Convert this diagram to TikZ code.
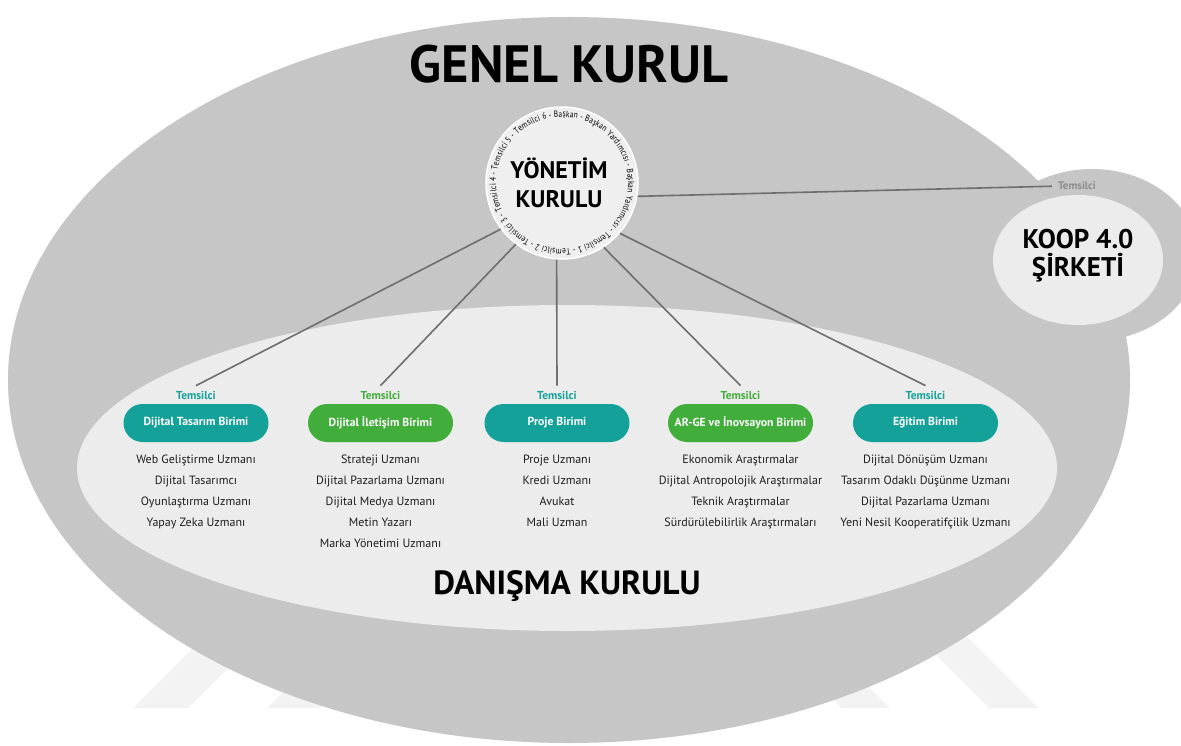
\documentclass[tikz,border=0pt]{standalone}
\usepackage{fontspec}
\setmainfont{PT Sans}
\newfontfamily\ringfont[FakeStretch=0.82]{PT Sans}
\usetikzlibrary{decorations.text}
\definecolor{biggrey}{HTML}{C6C6C6}
\definecolor{lightgrey}{HTML}{ECECEC}
\definecolor{circfill}{HTML}{EFEFEF}
\definecolor{tealc}{HTML}{14A199}
\definecolor{greenc}{HTML}{41AD3B}
\definecolor{linec}{HTML}{6E6E6E}
\definecolor{legc}{HTML}{F3F3F3}
\definecolor{koopt}{HTML}{8C8C8C}
\definecolor{itemc}{HTML}{1E1E1E}
\tikzset{
  unitbox/.style={rectangle, rounded corners=19pt, minimum width=145pt, minimum height=38pt,
    inner sep=0pt, text=white, font=\fontsize{11.7}{13}\selectfont\bfseries},
  replabel/.style={font=\fontsize{11.5}{13}\selectfont\bfseries, inner sep=5pt, anchor=base},
  itemtext/.style={font=\fontsize{12}{14}\selectfont, text=itemc, anchor=base, inner sep=1pt},
  conn/.style={draw=linec, line width=1.6pt},
  legshape/.style={fill=legc},
  bigtitle/.style={font=\fontsize{52.5}{60}\selectfont\bfseries, anchor=base, inner sep=0pt},
}
\begin{document}
\begin{tikzpicture}[x=1pt,y=1pt]
\useasboundingbox (0,0) rectangle (1181,-746);
\fill[white] (0,0) rectangle (1181,-746);
% faint table legs
\fill[legshape] (133,-708) -- (188,-708) -- (288,-608) -- (233,-608) -- cycle;
\fill[legshape] (267,-708) -- (320,-708) -- (420,-608) -- (367,-608) -- cycle;
\fill[legshape] (841,-708) -- (890,-708) -- (790,-608) -- (741,-608) -- cycle;
\fill[legshape] (989,-708) -- (1038,-708) -- (938,-608) -- (889,-608) -- cycle;
% Genel kurul and Koop outer
\fill[biggrey] (1092,-255) ellipse [x radius=106, y radius=86];
\fill[biggrey] (569,-380) ellipse [x radius=561, y radius=363];
% Danisma kurulu
\fill[lightgrey] (567,-468) ellipse [x radius=490, y radius=163];
% Koop inner
\fill[lightgrey] (1078,-260) ellipse [x radius=85, y radius=65];

% Yonetim kurulu circle
\node[circle, minimum size=152pt, fill=circfill, draw=white, line width=1.5pt, inner sep=0pt] (yk) at (562,-183) {};
\path[decorate, decoration={text along path, text align={fit to path},
  text={|\ringfont\fontsize{9}{9}\selectfont|Temsilci 4 - Temsilci 5 - Temsilci 6 - Başkan - Başkan Yardımcısı - Başkan Yardımcısı - Temsilci 1 - Temsilci 2 - Temsilci 3 -}}]
  (562,-183) ++(205:66) arc[start angle=205, end angle=-153, radius=66];
\node[font=\fontsize{24}{29}\selectfont\bfseries, align=center, inner sep=0pt] (ykt) at (559,-183) {YÖNETİM\\KURULU};

% titles
\node[bigtitle] (genel) at (569,-83) {GENEL KURUL};
\node[font=\fontsize{33.5}{36}\selectfont\bfseries, anchor=base, inner sep=0pt] (danisma) at (567,-594) {DANIŞMA KURULU};
\node[font=\fontsize{27}{28}\selectfont\bfseries, align=center, inner sep=0pt] (koop) at (1078,-256) {KOOP 4.0\\ŞİRKETİ};
\node[font=\fontsize{11}{13}\selectfont\bfseries, text=koopt, anchor=base, inner sep=3pt] (kt) at (1077,-190) {Temsilci};

% units
\node[unitbox, fill=tealc] (u1) at (196,-423) {Dijital Tasarım Birimi};
\node[unitbox, fill=greenc] (u2) at (380.5,-423) {Dijital İletişim Birimi};
\node[unitbox, fill=tealc] (u3) at (557,-423) {Proje Birimi};
\node[unitbox, fill=greenc] (u4) at (740.5,-423) {AR-GE ve İnovsayon Birimi};
\node[unitbox, fill=tealc] (u5) at (925.5,-423) {Eğitim Birimi};

\node[replabel, text=tealc] (t1) at (196,-399) {Temsilci};
\node[replabel, text=greenc] (t2) at (380.5,-399) {Temsilci};
\node[replabel, text=tealc] (t3) at (557,-399) {Temsilci};
\node[replabel, text=greenc] (t4) at (740.5,-399) {Temsilci};
\node[replabel, text=tealc] (t5) at (925.5,-399) {Temsilci};

% connectors
\draw[conn] (yk.217) -- (t1.north);
\draw[conn] (yk.233) -- (t2.north);
\draw[conn] (yk.266) -- (t3.north);
\draw[conn] (yk.303) -- (t4.north);
\draw[conn] (yk.319) -- (t5.north);
\draw[conn, shorten >=3pt] (yk.350) -- (kt.west);

% items
\foreach \t [count=\i] in {Web Geliştirme Uzmanı, Dijital Tasarımcı, Oyunlaştırma Uzmanı, Yapay Zeka Uzmanı}
  \node[itemtext] (a\i) at (196,{-463-21*(\i-1)}) {\t};
\foreach \t [count=\i] in {Strateji Uzmanı, Dijital Pazarlama Uzmanı, Dijital Medya Uzmanı, Metin Yazarı, Marka Yönetimi Uzmanı}
  \node[itemtext] (b\i) at (380.5,{-463-21*(\i-1)}) {\t};
\foreach \t [count=\i] in {Proje Uzmanı, Kredi Uzmanı, Avukat, Mali Uzman}
  \node[itemtext] (c\i) at (557,{-463-21*(\i-1)}) {\t};
\foreach \t [count=\i] in {Ekonomik Araştırmalar, Dijital Antropolojik Araştırmalar, Teknik Araştırmalar, Sürdürülebilirlik Araştırmaları}
  \node[itemtext] (d\i) at (740.5,{-463-21*(\i-1)}) {\t};
\foreach \t [count=\i] in {Dijital Dönüşüm Uzmanı, Tasarım Odaklı Düşünme Uzmanı, Dijital Pazarlama Uzmanı, Yeni Nesil Kooperatifçilik Uzmanı}
  \node[itemtext] (e\i) at (925.5,{-463-21*(\i-1)}) {\t};
\end{tikzpicture}
\end{document}
